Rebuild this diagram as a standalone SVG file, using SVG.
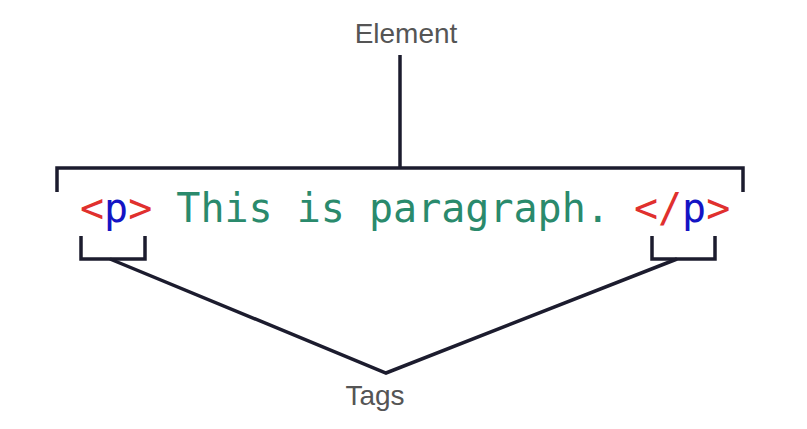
<svg xmlns="http://www.w3.org/2000/svg" width="807" height="429" viewBox="0 0 807 429">
<style>
.ln{fill:none;stroke:#1c1c2e;stroke-width:3.5;stroke-linejoin:miter;stroke-linecap:butt}
.lbl{font-family:"Liberation Sans",Arial,sans-serif;font-size:28px;fill:#555555}
.code{font-family:"DejaVu Sans Mono",monospace;font-size:40px}
.r{fill:#e0302e}
.b{fill:#1414c4}
.g{fill:#2a8a6c}
</style>
<rect width="807" height="429" fill="#ffffff"/>
<g id="element-label"><text class="lbl" x="406" y="43" text-anchor="middle">Element</text></g>
<g id="code-line">
<text class="code" x="80" y="222"><tspan class="r">&lt;</tspan><tspan class="b">p</tspan><tspan class="r">&gt;</tspan><tspan class="g" xml:space="preserve"> This is paragraph. </tspan><tspan class="r">&lt;/</tspan><tspan class="b">p</tspan><tspan class="r">&gt;</tspan></text>
</g>
<g id="tags-label"><text class="lbl" x="375" y="405" text-anchor="middle">Tags</text></g>
<g id="connectors">
<line class="ln" x1="400" y1="55" x2="400" y2="168"/>
<polyline class="ln" points="57,192 57,168 743,168 743,192"/>
<polyline class="ln" points="81,236 81,259 145,259 145,236"/>
<polyline class="ln" points="652,236 652,259 715,259 715,236"/>
<polyline class="ln" points="110,259 386,373 677,259"/>
</g>
</svg>
